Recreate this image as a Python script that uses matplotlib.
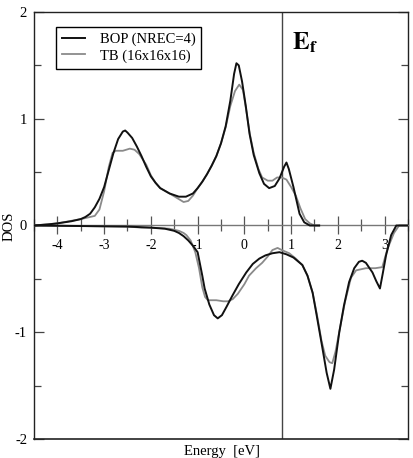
import matplotlib
matplotlib.use("Agg")
import matplotlib.pyplot as plt
from matplotlib.ticker import MultipleLocator

plt.rcParams['font.family'] = ['Liberation Serif', 'DejaVu Serif']
plt.rcParams['mathtext.fontset'] = 'stix'
plt.rcParams['axes.unicode_minus'] = False

# ---- data ----
bop_up_E = [-4.5, -4.2, -4.0, -3.7, -3.5, -3.4, -3.3, -3.2, -3.1, -3.0, -2.9, -2.8, -2.7, -2.6,
            -2.55, -2.5, -2.4, -2.3, -2.2, -2.1, -2.0, -1.9, -1.8, -1.6, -1.4, -1.25, -1.1,
            -1.0, -0.9, -0.8, -0.7, -0.6, -0.5, -0.4, -0.3, -0.22, -0.17, -0.12, -0.05, 0.03,
            0.11, 0.2, 0.32, 0.42, 0.53, 0.65, 0.75, 0.85, 0.9, 0.95, 1.05, 1.18, 1.28, 1.4, 1.6]
bop_up_D = [0.0, 0.01, 0.02, 0.04, 0.06, 0.08, 0.11, 0.17, 0.25, 0.36, 0.52, 0.68, 0.81, 0.88,
            0.89, 0.87, 0.82, 0.74, 0.65, 0.55, 0.46, 0.40, 0.35, 0.30, 0.27, 0.27, 0.30,
            0.35, 0.41, 0.48, 0.56, 0.65, 0.77, 0.93, 1.17, 1.42, 1.52, 1.50, 1.35, 1.12,
            0.86, 0.66, 0.49, 0.39, 0.35, 0.37, 0.44, 0.55, 0.59, 0.53, 0.36, 0.11, 0.03, 0.0, 0.0]

tb_up_E = [-4.5, -4.0, -3.5, -3.3, -3.2, -3.1, -3.0, -2.9, -2.82, -2.75, -2.6, -2.45, -2.35,
           -2.25, -2.1, -2.0, -1.9, -1.8, -1.6, -1.45, -1.3, -1.2, -1.1, -1.0, -0.9, -0.8, -0.7,
           -0.6, -0.5, -0.4, -0.3, -0.2, -0.11, -0.03, 0.05, 0.12, 0.2, 0.3, 0.38, 0.5, 0.6,
           0.7, 0.8, 0.9, 1.0, 1.1, 1.2, 1.3, 1.4, 1.5, 1.6]
tb_up_D = [0.0, 0.02, 0.06, 0.08, 0.09, 0.15, 0.32, 0.55, 0.68, 0.70, 0.70, 0.72, 0.71,
           0.67, 0.57, 0.47, 0.40, 0.35, 0.30, 0.26, 0.22, 0.23, 0.28, 0.35, 0.41, 0.48, 0.56,
           0.65, 0.77, 0.92, 1.12, 1.26, 1.32, 1.27, 1.05, 0.85, 0.68, 0.53, 0.45, 0.42, 0.42,
           0.45, 0.45, 0.43, 0.36, 0.28, 0.16, 0.06, 0.02, 0.0, 0.0]

bop_dn_E = [-4.5, -2.5, -2.0, -1.7, -1.5, -1.4, -1.3, -1.2, -1.1, -1.0, -0.95, -0.9, -0.85,
            -0.75, -0.65, -0.57, -0.48, -0.38, -0.26, -0.12, 0.04, 0.18, 0.32, 0.45, 0.6, 0.75,
            0.9, 1.05, 1.24, 1.35, 1.46, 1.55, 1.67, 1.76, 1.84, 1.92, 2.03, 2.13, 2.24, 2.35,
            2.45, 2.52, 2.6, 2.74, 2.82, 2.9, 2.96, 3.03, 3.14, 3.25, 3.5]
bop_dn_D = [0.0, -0.01, -0.02, -0.03, -0.05, -0.07, -0.10, -0.14, -0.19, -0.25, -0.36, -0.47,
            -0.59, -0.74, -0.84, -0.87, -0.84, -0.76, -0.66, -0.55, -0.44, -0.36, -0.31, -0.28,
            -0.26, -0.25, -0.27, -0.30, -0.37, -0.47, -0.63, -0.85, -1.15, -1.38, -1.53, -1.35,
            -1.00, -0.75, -0.53, -0.40, -0.34, -0.33, -0.35, -0.44, -0.52, -0.59, -0.45, -0.28,
            -0.09, 0.0, 0.0]

tb_dn_E = [-4.5, -2.5, -2.2, -2.0, -1.6, -1.4, -1.3, -1.24, -1.15, -1.05, -0.97, -0.9, -0.84,
           -0.78, -0.6, -0.45, -0.35, -0.25, -0.14, 0.0, 0.1, 0.25, 0.38, 0.5, 0.6, 0.71, 0.8,
           0.96, 1.1, 1.24, 1.35, 1.46, 1.55, 1.65, 1.73, 1.82, 1.88, 1.95, 2.05, 2.15, 2.28,
           2.39, 2.6, 2.8, 2.95, 3.06, 3.2, 3.31, 3.5]
tb_dn_D = [0.0, -0.01, -0.02, -0.02, -0.03, -0.05, -0.07, -0.09, -0.14, -0.25, -0.40, -0.58,
           -0.67, -0.70, -0.70, -0.71, -0.71, -0.69, -0.64, -0.55, -0.47, -0.40, -0.35, -0.29,
           -0.23, -0.21, -0.23, -0.26, -0.31, -0.37, -0.47, -0.63, -0.83, -1.08, -1.22, -1.28,
           -1.29, -1.18, -0.95, -0.72, -0.49, -0.42, -0.40, -0.40, -0.39, -0.22, -0.07, 0.0, 0.0]

E_fermi = 0.8
x_ticks = [-4, -3, -2, -1, 0, 1, 2, 3]
y_ticks = [-2, -1, 0, 1, 2]
labels = ['BOP (NREC=4)', 'TB (16x16x16)']

# ---- figure ----
W, H = 414, 458
fig = plt.figure(figsize=(W / 100, H / 100), dpi=100)
ax = fig.add_axes([34 / W, 1 - 439 / H, (408 - 34) / W, (439 - 12) / H])

ax.plot(bop_up_E, bop_up_D, color='#111111', lw=1.4, label=labels[0], zorder=4)
ax.plot(tb_up_E, tb_up_D, color='#8a8a8a', lw=1.3, label=labels[1], zorder=3)
ax.plot(bop_dn_E, bop_dn_D, color='#111111', lw=1.4, zorder=4)
ax.plot(tb_dn_E, tb_dn_D, color='#8a8a8a', lw=1.3, zorder=3)

ax.axvline(E_fermi, color='#444444', lw=1.0, zorder=2)

ax.set_xlim(-4.5, 3.5)
ax.set_ylim(-2, 2)

# x axis drawn on the zero line
ax.spines['bottom'].set_position(('data', 0))
ax.spines['bottom'].set_color('#777777')
ax.spines['bottom'].set_linewidth(1.0)
ax.plot([0, 1], [0, 0], transform=ax.transAxes, color='#222222', lw=1.2, clip_on=False)
for s in ['left', 'top', 'right']:
    ax.spines[s].set_linewidth(1.0)
    ax.spines[s].set_color('#222222')

ax.set_xticks(x_ticks)
ax.xaxis.set_minor_locator(MultipleLocator(0.5))
ax.tick_params(axis='x', which='major', direction='inout', length=13, width=0.9,
               colors='#555555', labelcolor='black', labelsize=10, pad=3)
ax.tick_params(axis='x', which='minor', direction='inout', length=8, width=0.9,
               colors='#555555')

ax.set_yticks(y_ticks)
ax.yaxis.set_minor_locator(MultipleLocator(0.5))
ax.tick_params(axis='y', which='major', direction='in', length=7, width=0.9,
               right=True, labelsize=10.5, pad=5, colors='#444444', labelcolor='black')
ax.tick_params(axis='y', which='minor', direction='in', length=5, width=0.9,
               right=True, colors='#444444')

leg = ax.legend(loc='upper left', bbox_to_anchor=((56 - 34) / 374, (439 - 27) / 427),
                borderaxespad=0, fancybox=False, edgecolor='black', framealpha=1,
                fontsize=10.5, handlelength=1.6, handletextpad=1.0, labelspacing=0.2,
                borderpad=0.4)
leg.get_frame().set_linewidth(1.0)

ax.text(1.02, 1.65, r'$\mathbf{E_f}$', fontsize=18, va='baseline', ha='left')

fig.text(222 / W, 1 - 451 / H, 'Energy  [eV]', ha='center', va='center', fontsize=10.5)
fig.text(9 / W, 1 - 226 / H, 'DOS', ha='center', va='center', rotation=90, fontsize=10.5)

fig.savefig('out.png', dpi=100)
